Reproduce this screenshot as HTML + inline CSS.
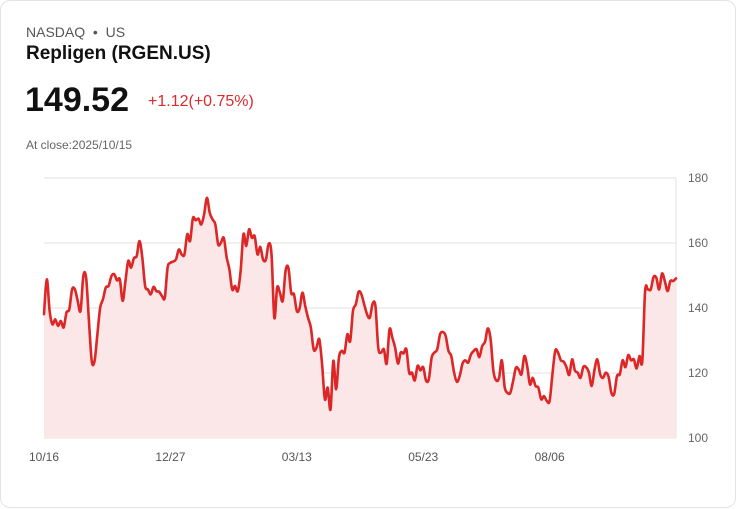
<!DOCTYPE html>
<html><head><meta charset="utf-8"><style>
body{margin:0;background:#fff;font-family:"Liberation Sans",sans-serif;}
.card{position:absolute;left:0;top:0;width:734px;height:506px;border:1px solid #e3e3e3;border-radius:10px;background:#fff;}
.t{position:absolute;white-space:nowrap;}
</style></head><body>
<div class="card">
<div class="t" style="left:25px;top:23px;font-size:14px;color:#555;">NASDAQ&nbsp; •&nbsp; US</div>
<div class="t" style="left:25px;top:42px;font-size:19px;font-weight:bold;color:#111;">Repligen (RGEN.US)</div>
<div class="t" style="left:24px;top:80px;font-size:34px;font-weight:bold;color:#111;">149.52</div>
<div class="t" style="left:147px;top:92px;font-size:16px;color:#dd2a2a;">+1.12(+0.75%)</div>
<div class="t" style="left:25px;top:137px;font-size:12px;color:#666;">At close:2025/10/15</div>
<svg id="chart" width="736" height="508" style="position:absolute;left:0;top:0;"></svg>
</div>
<script>
const values=[138.1,148.8,139.1,135,136.5,134.5,136,134,138.6,139.6,145.7,145.7,142.2,139.1,149.8,149.3,136,123.7,123.7,131.9,140.1,142.7,146.3,146.8,149.8,150.4,148.5,148.8,142.2,148.3,154.5,152.4,155.3,156,160.6,155.5,146.8,145.7,144.2,146.5,145.2,145,143.7,143.2,152.4,153.9,154.3,155,158,156.5,156.5,162.7,160.6,167.6,167,167.5,165.7,168.8,173.9,169.3,167.3,165.7,159.6,160.1,161.6,155.7,151.9,145.7,146.8,145.2,151.4,162.7,159.1,164.2,161.6,162.1,156.5,158.8,154.9,154.9,159.8,156.5,137,146.3,144.7,142.2,151.4,152.4,144.7,144.2,139.1,139.9,144.7,140.6,137,134,127.3,127.8,130.4,122.7,111.9,115.5,108.8,123.7,115,124.7,126.8,126.3,131.9,129.8,
139.1,141.1,145,144.2,141.1,138.1,137,141.3,140.6,127.8,126.3,127.3,122.9,133.4,130.9,127.8,122.9,126.3,126,127.3,120.1,120.1,117.7,122.2,120.8,121.8,117.7,118.1,124.7,126.3,127.3,131.9,132.6,131.4,126.8,125.2,120.1,117.3,119.1,122.9,123.9,123.2,125.7,126.8,127.3,124.9,128.3,129.6,133.7,130.4,120.6,117.7,118.5,123.9,115.7,113.9,113.9,117.5,121.6,121.1,119.6,125.2,122.2,116.5,118.5,116,115.5,111.9,112.9,111.4,111.4,119.6,126.8,126.3,123.9,123.5,121.8,119.4,124.2,120.8,120.1,118.5,121.8,121.8,120.1,116,121.1,124.2,119.6,118.5,120.1,118.8,113.9,113.6,119.1,119.6,123.9,121.8,125.5,123.9,124.2,121.4,125.2,123.7,145.2,145.7,145.7,149.5,149.3,145.7,150.6,148.3,145.2,148.3,148.3,149.1];
const yTicks=[100,120,140,160,180];
const xLabels=["10/16","12/27","03/13","05/23","08/06"];
const xLabelIdx=[0,0.2,0.4,0.6,0.8];
const svg=document.getElementById('chart');const NS="http://www.w3.org/2000/svg";
const X0=43,X1=675,Y0=437,Y1=177;
const yS=v=>Y0-(v-100)/80*(Y0-Y1);
const xS=i=>X0+i/(values.length-1)*(X1-X0);
function mk(t,a){const e=document.createElementNS(NS,t);for(const k in a)e.setAttribute(k,a[k]);svg.appendChild(e);return e;}
yTicks.forEach(v=>{
 const l=mk('line',{x1:X0,x2:X1,y1:yS(v),y2:yS(v),stroke:'#e2e2e2','stroke-width':1});
 
 
 const t=mk('text',{x:687,y:yS(v)+4,'font-size':12,fill:'#666','font-family':'Liberation Sans, sans-serif'});t.textContent=v;
 
 
});
const ax=mk('line',{x1:X1,x2:X1,y1:Y1,y2:Y0,stroke:'#e2e2e2','stroke-width':1});


xLabels.forEach((s,k)=>{
 const t=mk('text',{x:X0+xLabelIdx[k]*(X1-X0)-15,y:460,'font-size':12,fill:'#555','font-family':'Liberation Sans, sans-serif'});t.textContent=s;
 
 
});
const pts=values.map((v,i)=>[xS(i),yS(v)]);
let d='M'+pts[0][0]+','+pts[0][1];
for(let i=0;i<pts.length-1;i++){const p0=pts[Math.max(0,i-1)],p1=pts[i],p2=pts[i+1],p3=pts[Math.min(pts.length-1,i+2)];
 d+=' C'+(p1[0]+(p2[0]-p0[0])/6)+','+(p1[1]+(p2[1]-p0[1])/6)+' '+(p2[0]-(p3[0]-p1[0])/6)+','+(p2[1]-(p3[1]-p1[1])/6)+' '+p2[0]+','+p2[1];}
const area=mk('path',{d:d+' L'+X1+','+Y0+' L'+X0+','+Y0+' Z',fill:'#fbe7e7',stroke:'none'});


const line=mk('path',{d:d,fill:'none',stroke:'#dd2626','stroke-width':2.6,'stroke-linejoin':'round','stroke-linecap':'round'});


</script>
</body></html>
